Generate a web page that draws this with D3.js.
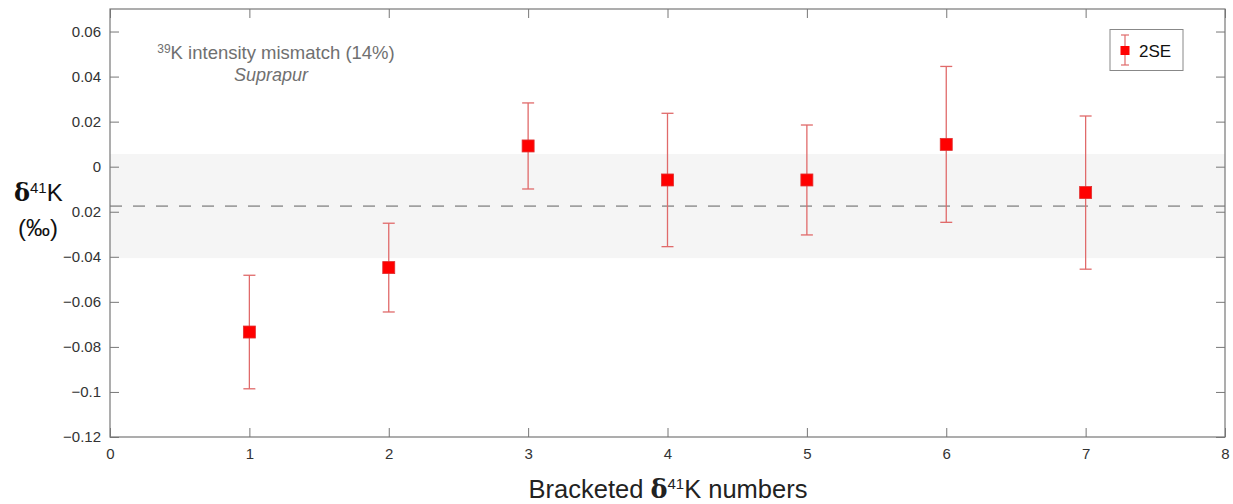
<!DOCTYPE html>
<html><head><meta charset="utf-8">
<script src="https://cdn.jsdelivr.net/npm/d3@7"></script>
<style>
body{margin:0;background:#fff;}
text{font-family:"Liberation Sans",Arial,Helvetica,sans-serif;}
</style></head>
<body><svg id="c" width="1233" height="504"></svg>
<script>
// data
const brackets = [1,2,3,4,5,6,7];
const delta41K = [-0.0734,-0.0448,0.0092,-0.0059,-0.0059,0.0099,-0.0115];
const err2SE   = [0.0252,0.0197,0.0191,0.0296,0.0244,0.0346,0.0340];
const meanValue = -0.0175;
const bandHalf = 0.0231;
const xTicks = [0,1,2,3,4,5,6,7,8];
const yTicks = [-0.12,-0.1,-0.08,-0.06,-0.04,-0.02,0,0.02,0.04,0.06];

const svg = d3.select('#c');
const L=110,R=1225,T=9,B=437;
const x = d3.scaleLinear().domain([0,8]).range([L,R]);
const y = d3.scaleLinear().domain([-0.12,0.07]).range([B,T]);
const fmt = v => (v<0?'\u2212':'') + d3.format('')(Math.abs(+v.toFixed(2)));

// band
svg.append('rect').attr('x',L).attr('width',R-L)
  .attr('y',y(meanValue+bandHalf)).attr('height',y(meanValue-bandHalf)-y(meanValue+bandHalf))
  .attr('fill','#f5f5f5');
svg.append('line').attr('x1',L).attr('x2',R).attr('y1',y(meanValue)).attr('y2',y(meanValue))
  .attr('stroke','#a0a0a0').attr('stroke-width',1.6).attr('stroke-dasharray','12,11');

// axes
const tickLen=9, axCol='#777';
const gL = svg.append('g').attr('transform',`translate(${L},0)`)
  .call(d3.axisLeft(y).tickValues(yTicks).tickSize(-tickLen).tickPadding(9).tickFormat(fmt));
const gR = svg.append('g').attr('transform',`translate(${R},0)`)
  .call(d3.axisRight(y).tickValues(yTicks).tickSize(-tickLen).tickFormat(''));
const gB = svg.append('g').attr('transform',`translate(0,${B})`)
  .call(d3.axisBottom(x).tickValues(xTicks).tickSize(-tickLen).tickPadding(11).tickFormat(d3.format('d')));
const gT = svg.append('g').attr('transform',`translate(0,${T})`)
  .call(d3.axisTop(x).tickValues(xTicks).tickSize(-tickLen).tickFormat(''));
[gL,gR,gB,gT].forEach(g=>{
  g.select('.domain').remove();
  g.selectAll('line').attr('stroke',axCol);
  g.selectAll('text').attr('fill','#333').style('font-size','15px');
});
svg.append('rect').attr('x',L).attr('y',T).attr('width',R-L).attr('height',B-T)
  .attr('fill','none').attr('stroke','#777').attr('stroke-width',1.2);

// error bars
const eb = svg.append('g');
brackets.forEach((b,i)=>{
  const cx=x(b), y1=y(delta41K[i]+err2SE[i]), y2=y(delta41K[i]-err2SE[i]);
  eb.append('line').attr('x1',cx).attr('x2',cx).attr('y1',y1).attr('y2',y2).attr('stroke','#e06a6a').attr('stroke-width',1.3);
  [y1,y2].forEach(yy=>eb.append('line').attr('x1',cx-6).attr('x2',cx+6).attr('y1',yy).attr('y2',yy).attr('stroke','#e06a6a').attr('stroke-width',1.3));
});
svg.append('g').selectAll('rect').data(brackets).join('rect')
  .attr('x',d=>x(d)-6).attr('y',(d,i)=>y(delta41K[i])-6).attr('width',12).attr('height',12)
  .attr('fill','#ff0000').attr('stroke','#e03030').attr('stroke-width',0.8);

// annotation
const ann = svg.append('text').attr('x',276).attr('y',59).attr('text-anchor','middle')
  .attr('fill','#707070').style('font-size','18.5px');
ann.append('tspan').text('39').style('font-size','12px').attr('dy','-6');
ann.append('tspan').text('K intensity mismatch (14%)').attr('dy','6');
svg.append('text').attr('x',271).attr('y',81).attr('text-anchor','middle')
  .attr('fill','#707070').style('font-size','18px').style('font-style','italic').text('Suprapur');

// legend
svg.append('rect').attr('x',1110).attr('y',29.5).attr('width',73).attr('height',41)
  .attr('fill','#fff').attr('stroke','#888').attr('stroke-width',1);
svg.append('line').attr('x1',1125).attr('x2',1125).attr('y1',35).attr('y2',65).attr('stroke','#e06a6a').attr('stroke-width',1.2);
[35,65].forEach(yy=>svg.append('line').attr('x1',1121).attr('x2',1129).attr('y1',yy).attr('y2',yy).attr('stroke','#e06a6a').attr('stroke-width',1.2));
svg.append('rect').attr('x',1120.5).attr('y',46).attr('width',9).attr('height',9).attr('fill','#ff0000');
svg.append('text').attr('x',1139).attr('y',57).attr('fill','#111').style('font-size','17px').text('2SE');

// y label (its white backing hides the minus of the −0.02 tick label, as in the reference)
const yl = svg.append('g');
yl.append('rect').attr('x',12).attr('y',180).attr('width',60).attr('height',38).attr('fill','#fff');
const yt = yl.append('text').attr('x',14).attr('y',201).attr('fill','#111').style('font-size','24px');
yt.append('tspan').text('\u03b4').style('font-weight','bold').style('font-family','"DejaVu Serif",serif');
yt.append('tspan').text('41').style('font-size','15px').attr('dy','-8');
yt.append('tspan').text('K').attr('dy','8');
yl.append('text').attr('x',38).attr('y',236).attr('text-anchor','middle').attr('fill','#111')
  .style('font-size','24px').text('(\u2030)');

// x label
const xl = svg.append('text').attr('x',668).attr('y',498).attr('text-anchor','middle')
  .attr('fill','#222').style('font-size','25.5px');
xl.append('tspan').text('Bracketed ');
xl.append('tspan').text('\u03b4').style('font-weight','bold').style('font-family','"DejaVu Serif",serif');
xl.append('tspan').text('41').style('font-size','15px').attr('dy','-9');
xl.append('tspan').text('K numbers').attr('dy','9');
</script></body></html>
